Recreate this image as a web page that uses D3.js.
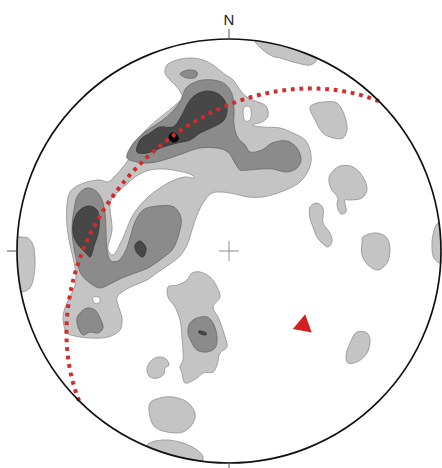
<!DOCTYPE html>
<html><head><meta charset="utf-8">
<script src="https://cdn.jsdelivr.net/npm/d3@7"></script>
<style>html,body{margin:0;padding:0;background:#fff;}svg{display:block;}</style>
</head><body>
<script>
// Lower-hemisphere equal-area (Schmidt) net: pole-density contours,
// the mean great circle (dotted) and its pole (triangle).
const width = 442, height = 468;
const cx = 229, cy = 251, R = 212;

// Mean plane, right-hand-rule strike / dip in degrees
const planeStrike = 225;
const planeDip = 41;

// Primitive ticks (azimuths) and labels
const tickAzimuths = [0, 90, 180, 270];
const compassLabels = [{ text: "N", az: 0 }];

// Density contours, vertices on a 424 x 424 grid spanning the net
// (x east from the west edge, y south from the north edge).
const level1Shapes = [
  [[50,294],[46,279],[49,266],[55,254],[59,241],[57,223],[53,206],[50,186],[50,166],[53,153],[60,147],[70,143],[83,141],[91,143],[98,137],[106,128],[113,118],[116,108],[126,94],[140,81],[156,68],[165,58],[160,48],[153,41],[148,34],[150,26],[160,21],[173,19],[186,21],[196,26],[206,34],[216,41],[223,51],[231,59],[241,63],[249,67],[251,77],[245,83],[235,86],[245,88],[263,89],[276,94],[288,101],[293,111],[294,123],[290,134],[283,143],[273,149],[261,154],[245,158],[231,158],[218,155],[205,153],[195,154],[188,161],[180,176],[175,191],[170,206],[163,217],[153,225],[141,233],[130,241],[118,246],[108,251],[100,258],[101,266],[105,279],[103,291],[91,298],[73,299],[58,297]],
  [[238,2],[245,10],[255,17],[263,19],[280,24],[293,26],[299,22],[300,10],[270,0],[240,-5]],
  [[293,68],[300,64],[306,63],[320,64],[328,78],[330,91],[326,99],[316,99],[306,94],[298,81]],
  [[313,136],[323,127],[336,128],[346,138],[350,151],[345,159],[333,161],[328,161],[329,173],[324,175],[320,166],[321,159],[315,151],[312,143]],
  [[293,168],[300,164],[306,169],[306,184],[313,194],[315,203],[311,208],[305,204],[300,198],[296,188],[293,179]],
  [[346,198],[360,194],[370,199],[373,211],[370,224],[361,231],[351,226],[345,216],[345,204]],
  [[420,185],[416,196],[415,209],[417,219],[423,224],[429,206],[425,183]],
  [[340,293],[350,294],[353,301],[350,314],[340,323],[331,324],[329,318],[333,304]],
  [[3,198],[11,199],[16,206],[18,221],[17,236],[13,249],[5,253],[-5,251],[-5,196]],
  [[151,248],[161,246],[170,241],[175,234],[183,233],[193,238],[200,248],[203,258],[196,268],[201,278],[205,288],[208,298],[210,308],[203,314],[200,326],[196,333],[186,334],[180,339],[168,344],[165,334],[163,328],[166,321],[166,311],[165,298],[163,281],[158,268],[151,258]],
  [[133,323],[141,318],[149,320],[152,326],[148,329],[147,335],[141,339],[133,338],[130,331]],
  [[133,364],[143,359],[156,358],[170,363],[178,374],[176,384],[166,393],[150,393],[138,388],[133,378]],
  [[130,406],[146,401],[166,404],[180,411],[186,418],[183,426],[153,431],[128,423]]
];
const level1Holes = [
  [[93,166],[95,191],[91,211],[96,216],[105,201],[116,176],[130,159],[143,149],[155,142],[168,138],[178,139],[173,135],[161,132],[148,130],[133,131],[121,136],[111,144],[101,153],[95,159]],
  [[227,68],[233,68],[233,81],[228,82]],
  [[76,258],[83,259],[82,264],[77,264]]
];
const level2Shapes = [
  [[110,119],[115,106],[128,93],[143,83],[155,73],[164,61],[169,49],[181,42],[196,41],[208,45],[215,55],[217,71],[217,86],[221,99],[228,106],[233,113],[245,111],[255,104],[270,102],[280,109],[284,121],[280,129],[270,133],[256,130],[243,130],[231,131],[223,131],[218,124],[211,113],[200,109],[183,109],[170,113],[156,118],[143,122],[131,124],[120,123]],
  [[61,156],[57,171],[55,191],[57,209],[60,223],[64,235],[73,244],[83,249],[93,245],[105,239],[118,234],[131,229],[143,221],[155,211],[161,198],[164,179],[157,168],[141,167],[126,171],[118,183],[113,199],[108,213],[101,222],[94,222],[90,211],[89,193],[88,174],[85,161],[79,152],[70,149]],
  [[63,274],[70,269],[78,271],[83,279],[86,289],[81,294],[73,293],[66,296],[61,288],[60,279]],
  [[163,35],[171,31],[180,33],[179,38],[170,39]],
  [[173,284],[180,279],[190,278],[196,284],[200,298],[198,309],[190,313],[180,311],[175,304],[171,294]]
];
const level3Shapes = [
  [[120,113],[123,101],[133,94],[143,88],[156,88],[165,76],[170,66],[177,57],[190,52],[203,56],[210,68],[207,81],[196,88],[183,94],[173,101],[160,104],[146,108],[130,114]],
  [[56,186],[61,173],[71,167],[80,171],[82,189],[77,207],[73,218],[69,214],[62,207],[57,198]],
  [[118,206],[123,202],[129,209],[126,218],[120,214]],
  [[182,292],[189,294],[189,296],[182,294]]
];
const level4Shapes = [
  [[152,98],[155,94],[160,96],[161,101],[156,103]]
];

// Scales: contour grid and unit net coordinates (north up)
const xg = d3.scaleLinear().domain([0, 424]).range([cx - R, cx + R]);
const yg = d3.scaleLinear().domain([0, 424]).range([cy - R, cy + R]);
const xn = d3.scaleLinear().domain([-1, 1]).range([cx - R, cx + R]);
const yn = d3.scaleLinear().domain([1, -1]).range([cy - R, cy + R]);

const rad = Math.PI / 180;
// Equal-area projection of a line (trend, plunge) to unit-net coordinates
function project(trend, plunge) {
  const r = Math.SQRT2 * Math.sin((90 - plunge) / 2 * rad);
  return [r * Math.sin(trend * rad), r * Math.cos(trend * rad)];
}
// Lines lying in the plane, from one strike end to the other
function greatCircle(strike, dip) {
  const dd = strike + 90;
  const S = [Math.sin(strike * rad), Math.cos(strike * rad), 0];
  const D = [Math.cos(dip * rad) * Math.sin(dd * rad), Math.cos(dip * rad) * Math.cos(dd * rad), Math.sin(dip * rad)];
  return d3.range(0, 180.5, 1).map(t => {
    const c = Math.cos(t * rad), s = Math.sin(t * rad);
    const v = [c * S[0] + s * D[0], c * S[1] + s * D[1], c * S[2] + s * D[2]];
    const plunge = Math.asin(Math.max(-1, Math.min(1, v[2]))) / rad;
    const trend = Math.atan2(v[0], v[1]) / rad;
    return project(trend, plunge);
  });
}

const svg = d3.select("body").append("svg")
  .attr("width", width).attr("height", height);

svg.append("clipPath").attr("id", "net")
  .append("circle").attr("cx", xn(0)).attr("cy", yn(0)).attr("r", xn(1) - xn(0));

const contourLine = d3.line()
  .x(d => xg(d[0])).y(d => yg(d[1]))
  .curve(d3.curveCatmullRomClosed.alpha(0.5));

const gC = svg.append("g").attr("clip-path", "url(#net)");
const levels = [
  { shapes: level1Shapes, fill: "#c4c4c4", stroke: "#979797" },
  { shapes: level1Holes, fill: "#ffffff", stroke: "#979797" },
  { shapes: level2Shapes, fill: "#8b8b8b", stroke: "#6e6e6e" },
  { shapes: level3Shapes, fill: "#474747", stroke: "#3a3a3a" },
  { shapes: level4Shapes, fill: "#050505", stroke: "#000000" }
];
levels.forEach(l => {
  gC.append("g").selectAll("path").data(l.shapes).join("path")
    .attr("d", contourLine)
    .attr("fill", l.fill)
    .attr("stroke", l.stroke)
    .attr("stroke-width", 0.9)
    .attr("stroke-linejoin", "round");
});

// Center cross
const arm = 10 / R;
svg.append("g").attr("stroke", "#8a8a8a").attr("stroke-width", 1)
  .selectAll("line").data([[[-arm, 0], [arm, 0]], [[0, -arm], [0, arm]]]).join("line")
  .attr("x1", d => xn(d[0][0])).attr("y1", d => yn(d[0][1]))
  .attr("x2", d => xn(d[1][0])).attr("y2", d => yn(d[1][1]));

// Mean great circle
const gcPath = d3.line().x(d => xn(d[0])).y(d => yn(d[1]));
svg.append("path")
  .attr("d", gcPath(greatCircle(planeStrike, planeDip)))
  .attr("fill", "none")
  .attr("stroke", "#d42b2b")
  .attr("stroke-width", 4)
  .attr("stroke-dasharray", "3.8 4.8");

// Pole to the mean plane
const pole = project(planeStrike + 270, 90 - planeDip);
svg.append("path")
  .attr("d", d3.symbol(d3.symbolTriangle, 160)())
  .attr("transform", `translate(${xn(pole[0])},${yn(pole[1])}) rotate(10)`)
  .attr("fill", "#d42020");

// Primitive circle
svg.append("circle")
  .attr("cx", xn(0)).attr("cy", yn(0)).attr("r", xn(1) - xn(0))
  .attr("fill", "none").attr("stroke", "#111").attr("stroke-width", 1.7);

// Ticks on the primitive
const tickLen = 10 / R;
svg.append("g").attr("stroke", "#555").attr("stroke-width", 1)
  .selectAll("line").data(tickAzimuths).join("line")
  .attr("x1", a => xn(Math.sin(a * rad))).attr("y1", a => yn(Math.cos(a * rad)))
  .attr("x2", a => xn((1 + tickLen) * Math.sin(a * rad))).attr("y2", a => yn((1 + tickLen) * Math.cos(a * rad)));

// Compass label
svg.append("g").selectAll("text").data(compassLabels).join("text")
  .attr("x", d => xn((1 + 26 / R) * Math.sin(d.az * rad)))
  .attr("y", d => yn((1 + 14 / R) * Math.cos(d.az * rad)))
  .attr("text-anchor", "middle")
  .attr("font-family", "Liberation Sans, Arial, sans-serif")
  .attr("font-size", 15)
  .attr("fill", "#222")
  .text(d => d.text);
</script>
</body></html>
